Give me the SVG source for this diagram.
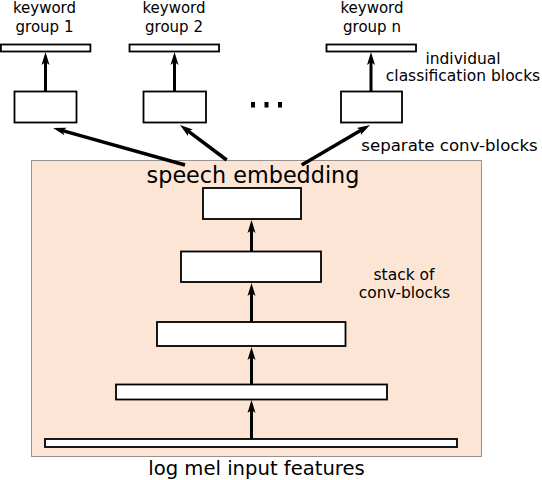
<svg xmlns="http://www.w3.org/2000/svg" width="542" height="480" viewBox="0 0 542 480">
<defs>
<style>
.box{fill:#fff;stroke:#000;stroke-width:1.8}
.t{font-family:"DejaVu Sans",sans-serif;fill:#000;text-anchor:middle}
.arr{stroke:#000;stroke-width:3.5;fill:none;marker-end:url(#ah)}
.varr{stroke:#000;stroke-width:3;fill:none;marker-end:url(#ah)}
</style>
<marker id="ah" markerUnits="userSpaceOnUse" markerWidth="14" markerHeight="10" refX="4" refY="5" orient="auto" viewBox="0 0 14 10">
<path d="M0,1 L13,5 L0,9 L3,5 Z" fill="#000"/>
</marker>
</defs>
<rect width="542" height="480" fill="#fff"/>
<g id="stack-region">
<rect x="31.5" y="160.5" width="450" height="296" fill="#fde5d5" stroke="#333" stroke-width="1" stroke-dasharray="1,1"/>
</g>
<g id="connectors">
<line class="varr" x1="45.5" y1="91" x2="45.5" y2="61"/>
<line class="varr" x1="174.5" y1="91" x2="174.5" y2="61"/>
<line class="varr" x1="371" y1="91" x2="371" y2="61"/>
<line class="arr" x1="185" y1="165" x2="61.7" y2="130.4"/>
<line class="arr" x1="226.7" y1="160" x2="187.2" y2="130.4"/>
<line class="arr" x1="301.7" y1="165" x2="362.2" y2="129.5"/>
<line class="varr" x1="251.5" y1="251" x2="251.5" y2="229"/>
<line class="varr" x1="251.5" y1="322" x2="251.5" y2="292"/>
<line class="varr" x1="251.5" y1="384" x2="251.5" y2="356"/>
<line class="varr" x1="251.5" y1="439" x2="251.5" y2="409"/>
</g>
<g id="kw1">
<text class="t" x="44.5" y="13" font-size="15">keyword</text>
<text class="t" x="44.5" y="31.5" font-size="15">group 1</text>
<rect class="box" x="0.9" y="44.5" width="89.5" height="7"/>
</g>
<g id="kw2">
<text class="t" x="174" y="13" font-size="15">keyword</text>
<text class="t" x="174" y="31.5" font-size="15">group 2</text>
<rect class="box" x="129.5" y="44.5" width="89.5" height="7"/>
</g>
<g id="kwn">
<text class="t" x="372" y="13" font-size="15">keyword</text>
<text class="t" x="372" y="31.5" font-size="15">group n</text>
<rect class="box" x="326.5" y="44.5" width="89.5" height="7"/>
</g>
<g id="conv1"><rect class="box" x="14.5" y="91.5" width="62" height="31"/></g>
<g id="conv2"><rect class="box" x="143.5" y="91.5" width="62.5" height="31"/></g>
<g id="convn"><rect class="box" x="341" y="91.5" width="61" height="31"/></g>
<g id="dots">
<rect x="251" y="102" width="4" height="5.5" fill="#000"/>
<rect x="264.5" y="102" width="4" height="5.5" fill="#000"/>
<rect x="278" y="102" width="4" height="5.5" fill="#000"/>
</g>
<g id="labels">
<text class="t" x="463" y="63.5" font-size="15.5">individual</text>
<text class="t" x="463" y="80.5" font-size="15.5">classification blocks</text>
<text class="t" x="449.5" y="151" font-size="16.6">separate conv-blocks</text>
<text class="t" x="404" y="280" font-size="15.5">stack of</text>
<text class="t" x="404.5" y="298" font-size="15.5">conv-blocks</text>
</g>
<g id="embedding">
<text class="t" x="253" y="183" font-size="22.3">speech embedding</text>
<rect class="box" x="203" y="188" width="98" height="31"/>
</g>
<g id="block2"><rect class="box" x="181" y="251.5" width="140" height="30.5"/></g>
<g id="block3"><rect class="box" x="157" y="322" width="188.5" height="24"/></g>
<g id="block4"><rect class="box" x="116" y="384.5" width="271" height="15"/></g>
<g id="input">
<rect class="box" x="45" y="439" width="412" height="8"/>
<text class="t" x="256.5" y="475" font-size="19.6">log mel input features</text>
</g>
</svg>
